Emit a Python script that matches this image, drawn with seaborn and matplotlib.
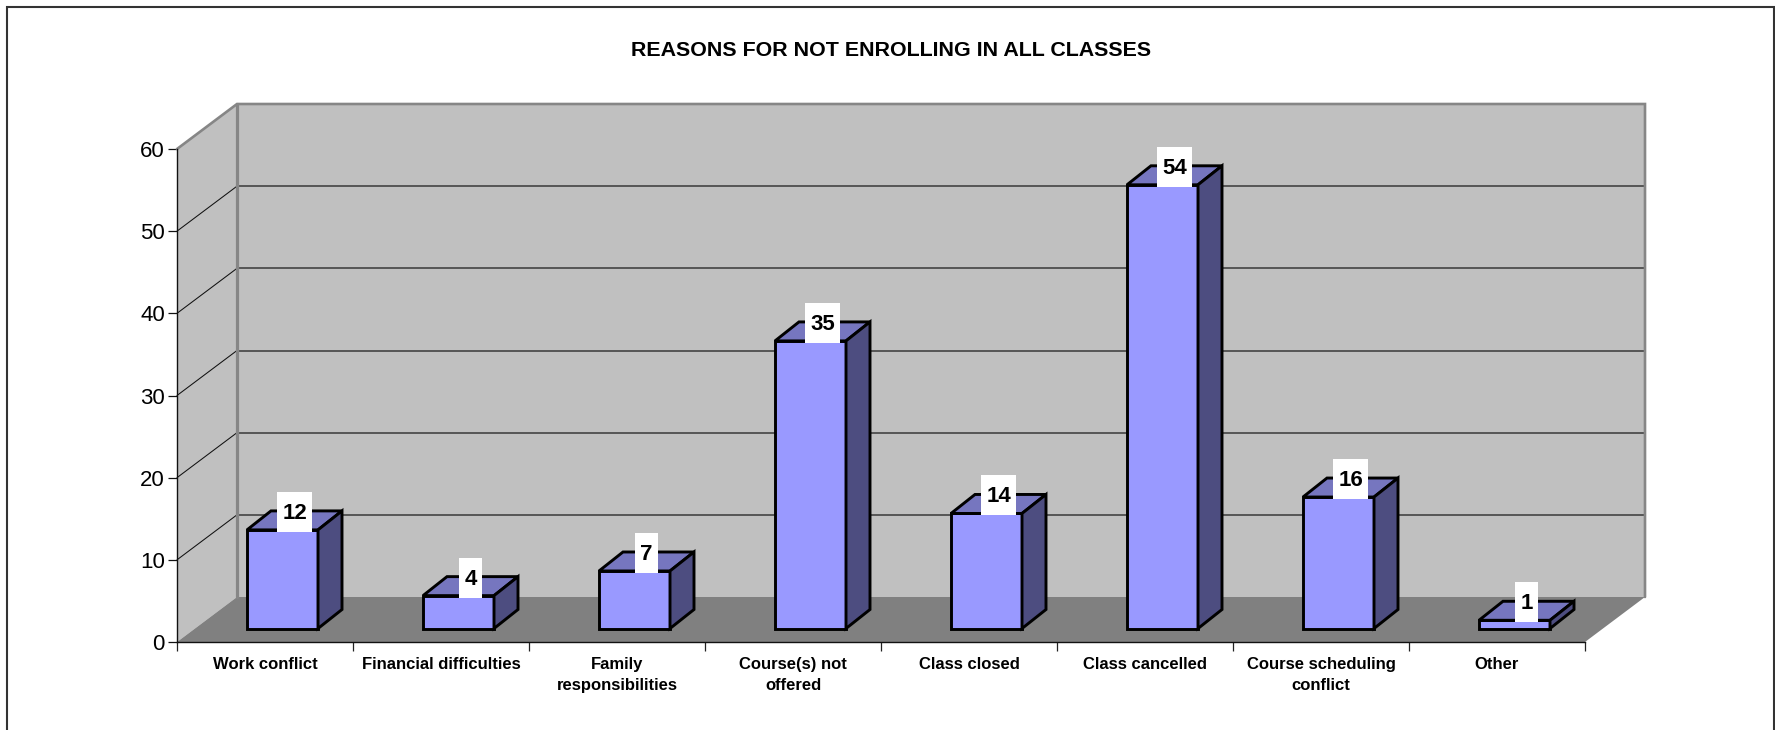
import matplotlib
matplotlib.use("Agg")
import matplotlib.pyplot as plt
from matplotlib.patches import Polygon, Rectangle
import seaborn as sns

categories = ["Work conflict", "Financial difficulties", "Family\nresponsibilities",
              "Course(s) not\noffered", "Class closed", "Class cancelled",
              "Course scheduling\nconflict", "Other"]
values = [12, 4, 7, 35, 14, 54, 16, 1]
y_ticks = [0, 10, 20, 30, 40, 50, 60]
title = "REASONS FOR NOT ENROLLING IN ALL CLASSES"

W, H = 1775, 730
sns.set_theme(style="white")
plt.rcParams["font.family"] = ["Liberation Sans", "DejaVu Sans"]

FACE, TOP, SIDE = "#9999FF", "#7676BF", "#4D4D80"
WALL, FLOOR, EDGE = "#C0C0C0", "#808080", "#868686"
LW = 2.1

fig = plt.figure(figsize=(W / 100, H / 100), dpi=100, facecolor="white")
ax = fig.add_axes([177 / W, (H - 642) / H, 1408 / W, 493 / H])
ax.patch.set_visible(False)

PXX, PXY = 1408 / 8, 493 / 60          # pixels per category / per value unit
wx, wy = 60 / PXX, 45 / PXY            # wall depth
bx, by = 24 / PXX, 19 / PXY            # bar depth
sx, sy = 17.5 / PXX, 13.5 / PXY        # bar offset inside the floor
bw = 71 / PXX

sns.barplot(x=categories, y=values, color=FACE, saturation=1, width=bw,
            edgecolor="black", linewidth=LW, ax=ax, zorder=4)
ax.set_xlim(-0.5, 7.5)
ax.set_ylim(0, 60)
ax.set_xlabel("")
ax.set_ylabel("")

# bars: shift the front faces onto the floor
for p in list(ax.patches):
    p.set_x(p.get_x() + sx)
    p.set_y(sy)
    p.set_joinstyle("miter")

L, R = -0.5, 7.5
# walls and floor
ax.add_patch(Polygon([(L + wx, wy), (R + wx, wy), (R + wx, 60 + wy), (L + wx, 60 + wy)],
                     fc=WALL, ec="none", zorder=0, clip_on=False))
ax.add_patch(Polygon([(L, 0), (L + wx, wy), (L + wx, 60 + wy), (L, 60)],
                     fc=WALL, ec="none", zorder=0, clip_on=False))
ax.add_patch(Polygon([(L, 0), (R, 0), (R + wx, wy), (L + wx, wy)],
                     fc=FLOOR, ec="none", zorder=1, clip_on=False))
# gridlines
for t in y_ticks[1:-1]:
    ax.plot([L, L + wx], [t, t + wy], color="#111111", lw=0.75, zorder=2, clip_on=False)
    ax.plot([L + wx, R + wx], [t + wy, t + wy], color="#444444", lw=1.2, zorder=2, clip_on=False)
# wall edges
ax.plot([L, L + wx, R + wx, R + wx], [60, 60 + wy, 60 + wy, wy], color=EDGE, lw=1.9,
        zorder=3, clip_on=False, solid_joinstyle="miter")
ax.plot([L + wx, L + wx], [wy, 60 + wy], color=EDGE, lw=2.3, zorder=3, clip_on=False)

# top and side faces of each bar, with its value label
for i, v in enumerate(values):
    x0 = i - bw / 2 + sx
    x1 = i + bw / 2 + sx
    y0, y1 = sy, v + sy
    ax.add_patch(Polygon([(x0, y1), (x1, y1), (x1 + bx, y1 + by), (x0 + bx, y1 + by)],
                         fc=TOP, ec="black", lw=LW, zorder=4, clip_on=False, joinstyle="miter"))
    ax.add_patch(Polygon([(x1, y0), (x1 + bx, y0 + by), (x1 + bx, y1 + by), (x1, y1)],
                         fc=SIDE, ec="black", lw=LW, zorder=4, clip_on=False, joinstyle="miter"))
    label = str(v)
    cx = i + sx + 12 / PXX
    bh = 40 / PXY
    bwid = (11 + 12.4 * len(label)) / PXX
    ybot = y1 - 2 / PXY
    ax.add_patch(Rectangle((cx - bwid / 2, ybot), bwid, bh, fc="white", ec="none",
                           zorder=5, clip_on=False))
    ax.text(cx, ybot + bh / 2 + 1 / PXY, label, ha="center", va="center_baseline", fontsize=16,
            fontweight="bold", color="black", zorder=6, clip_on=False)

# axes furniture
for s in ("top", "right"):
    ax.spines[s].set_visible(False)
for s in ("left", "bottom"):
    ax.spines[s].set_visible(True)
    ax.spines[s].set_color("#111111")
    ax.spines[s].set_linewidth(1.0)
    ax.spines[s].set_zorder(3)
ax.set_yticks(y_ticks)
ax.set_yticklabels([str(t) for t in y_ticks], fontsize=16, color="black")
ax.tick_params(axis="y", left=True, length=6.5, width=0.9, color="#111111", pad=2.2)
ax.set_xticks([k - 0.5 for k in range(len(categories) + 1)])
ax.set_xticklabels([""] * (len(categories) + 1))
ax.set_xticks(list(range(len(categories))), minor=True)
ax.set_xticklabels(categories, minor=True, fontsize=12, fontweight="bold", color="black",
                   linespacing=1.55)
ax.tick_params(axis="x", which="major", bottom=True, length=6.5, width=0.9, color="#222222")
ax.tick_params(axis="x", which="minor", bottom=False, length=0, pad=10.5)

fig.text(891 / W, 1 - 50 / H, title, ha="center", va="center", fontsize=15.4,
         fontweight="bold", color="black")
# outer chart frame, running off the bottom of the picture
fig.add_artist(Rectangle((7.5 / W, -0.02), (1774 - 7.5) / W, 1.02 - 6.5 / H,
                         transform=fig.transFigure, fc="none", ec="#333333", lw=1.5))

fig.savefig("out.png", dpi=100, facecolor="white")
